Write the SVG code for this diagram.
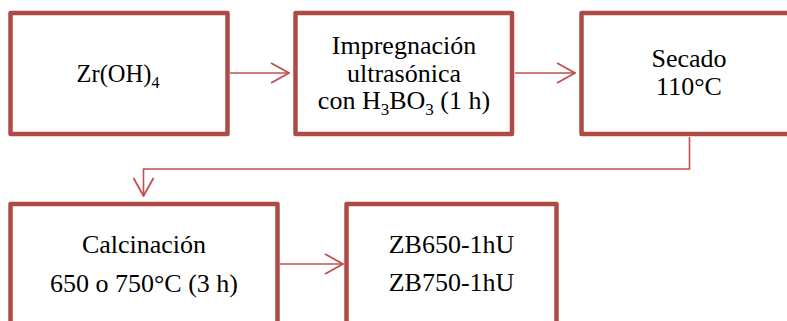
<svg xmlns="http://www.w3.org/2000/svg" width="787" height="321" viewBox="0 0 787 321">
<defs>
<style>
.box{fill:#fff;stroke:#B04A47;stroke-width:4.5;stroke-linejoin:round}
text{font-family:'Liberation Serif','Times New Roman',serif;font-size:26px;fill:#000;text-anchor:middle}
.c{fill:none;stroke:#C0504D;stroke-width:1.6}
</style>
<marker id="ah" viewBox="0 0 20 22" refX="19" refY="11" markerWidth="20" markerHeight="22" markerUnits="userSpaceOnUse" orient="auto">
<path d="M1,1 L19,11 L1,21" fill="none" stroke="#C0504D" stroke-width="1.8"/>
</marker>
</defs>
<rect width="787" height="321" fill="#fff"/>
<g id="connectors">
<line class="c" x1="230" y1="73" x2="289" y2="73" marker-end="url(#ah)"/>
<line class="c" x1="515" y1="73" x2="575" y2="73" marker-end="url(#ah)"/>
<polyline class="c" points="689.5,137 689.5,169 143.5,169 143.5,196" marker-end="url(#ah)"/>
<line class="c" x1="280" y1="264" x2="343" y2="264" marker-end="url(#ah)"/>
</g>
<g id="n1">
<rect class="box" x="10.5" y="13" width="217" height="121"/>
<text x="118" y="82" style="font-size:24.5px">Zr(OH)<tspan dy="6" font-size="16">4</tspan></text>
</g>
<g id="n2">
<rect class="box" x="295.5" y="13" width="216.5" height="121"/>
<text x="404" y="54">Impregnación</text>
<text x="404" y="81.5">ultrasónica</text>
<text x="404" y="108.5">con H<tspan dy="6" font-size="17">3</tspan><tspan dy="-6">BO</tspan><tspan dy="6" font-size="17">3</tspan><tspan dy="-6"> (1 h)</tspan></text>
</g>
<g id="n3">
<rect class="box" x="581.5" y="13" width="216" height="121"/>
<text x="689" y="67">Secado</text>
<text x="689" y="95">110°C</text>
</g>
<g id="n4">
<rect class="box" x="10.5" y="204" width="267" height="140"/>
<text x="144" y="253">Calcinación</text>
<text x="144" y="292">650 o 750°C (3 h)</text>
</g>
<g id="n5">
<rect class="box" x="346.5" y="204" width="210" height="140"/>
<text x="451.5" y="253">ZB650-1hU</text>
<text x="451.5" y="291">ZB750-1hU</text>
</g>
</svg>
